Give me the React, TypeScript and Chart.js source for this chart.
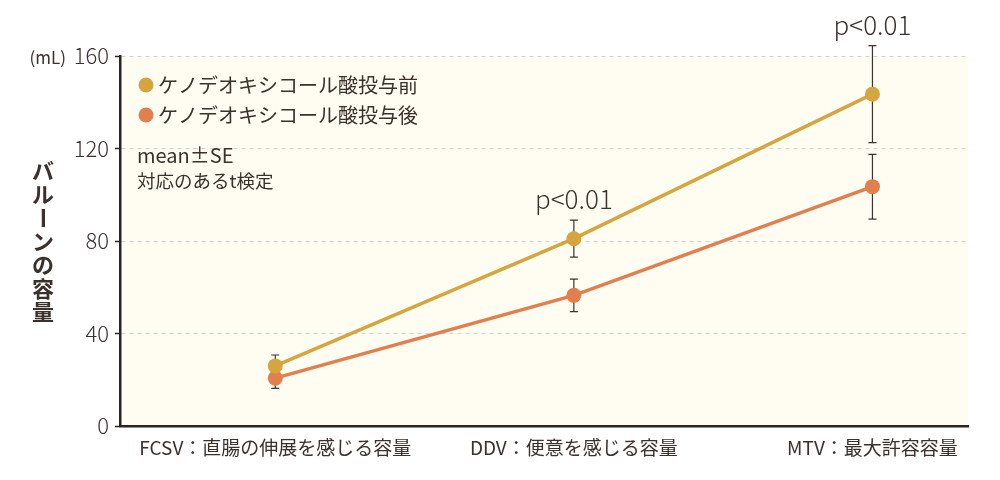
import { useEffect, useRef } from 'react'
import { Chart, registerables } from 'chart.js'

Chart.register(...registerables)

const categories = ['FCSV：直腸の伸展を感じる容量', 'DDV：便意を感じる容量', 'MTV：最大許容容量']
const seriesLabels = ['ケノデオキシコール酸投与前', 'ケノデオキシコール酸投与後']
const beforeMean = [26, 81, 143.5]
const beforeSE = [4.7, 8, 21]
const afterMean = [20.7, 56.5, 103.5]
const afterSE = [4.4, 7, 14]
const pLabels = ['', 'p<0.01', 'p<0.01']
const yTicks = [0, 40, 80, 120, 160]
const yTitle = 'バルーンの容量'
const unitLabel = '(mL)'
const noteLines = ['mean±SE', '対応のあるt検定']

const colors = ['#d5a53f', '#e17f4e']
const textColor = '#3a302c'
const font = '"Noto Sans CJK JP", "Noto Sans", sans-serif'

const decorPlugin = {
  id: 'decor',
  beforeDraw(chart: any) {
    const { ctx, chartArea } = chart
    ctx.save()
    ctx.fillStyle = '#fffdf1'
    ctx.fillRect(chartArea.left, chartArea.top, chartArea.right - chartArea.left, chartArea.bottom - chartArea.top)
    ctx.restore()
  },
  beforeDatasetsDraw(chart: any) {
    const { ctx } = chart
    const xs = chart.scales.x
    const ys = chart.scales.y
    const errs = [beforeSE, afterSE]
    const means = [beforeMean, afterMean]
    ctx.save()
    ctx.strokeStyle = '#3a3330'
    ctx.lineWidth = 1.2
    means.forEach((m, s) => {
      m.forEach((v, i) => {
        const x = xs.getPixelForValue(i)
        const top = ys.getPixelForValue(v + errs[s][i])
        const bot = ys.getPixelForValue(v - errs[s][i])
        ctx.beginPath()
        ctx.moveTo(x, top)
        ctx.lineTo(x, bot)
        ctx.moveTo(x - 4, top)
        ctx.lineTo(x + 4, top)
        ctx.moveTo(x - 4, bot)
        ctx.lineTo(x + 4, bot)
        ctx.stroke()
      })
    })
    ctx.restore()
  },
  afterDraw(chart: any) {
    const { ctx } = chart
    const xs = chart.scales.x
    const ys = chart.scales.y
    ctx.save()
    ctx.fillStyle = textColor

    // p-value labels
    ctx.font = `300 26px ${font}`
    ctx.textAlign = 'center'
    ctx.textBaseline = 'alphabetic'
    pLabels.forEach((p, i) => {
      if (!p) return
      const top = ys.getPixelForValue(beforeMean[i] + beforeSE[i])
      ctx.fillText(p, xs.getPixelForValue(i), top - 11)
    })

    // legend
    ctx.textAlign = 'left'
    ctx.textBaseline = 'middle'
    ctx.font = `20px ${font}`
    seriesLabels.forEach((label, s) => {
      const y = 85 + s * 30
      ctx.fillStyle = colors[s]
      ctx.beginPath()
      ctx.arc(146, y, 7.5, 0, Math.PI * 2)
      ctx.fill()
      ctx.fillStyle = textColor
      ctx.fillText(label, 158, y)
    })

    // notes
    ctx.font = `20px ${font}`
    ctx.fillText(noteLines[0], 137, 155)
    ctx.font = `18.5px ${font}`
    ctx.fillText(noteLines[1], 137, 181)

    // unit
    ctx.font = `17px ${font}`
    ctx.textAlign = 'right'
    ctx.fillText(unitLabel, 66, 58)

    // vertical y title
    ctx.font = `bold 22px ${font}`
    ctx.textAlign = 'center'
    Array.from(yTitle).forEach((ch, i) => {
      const cx = 43
      const cy = 171 + i * 23.5
      if (ch === 'ー') {
        ctx.save()
        ctx.translate(cx, cy)
        ctx.rotate(Math.PI / 2)
        ctx.fillText(ch, 0, 0)
        ctx.restore()
      } else {
        ctx.fillText(ch, cx, cy)
      }
    })
    ctx.restore()
  },
}

export default function App() {
  const canvasRef = useRef<HTMLCanvasElement | null>(null)

  useEffect(() => {
    if (!canvasRef.current) return
    const chart = new Chart(canvasRef.current, {
      type: 'line',
      data: {
        datasets: [beforeMean, afterMean].map((vals, s) => ({
          label: seriesLabels[s],
          data: vals.map((v, i) => ({ x: i, y: v })),
          borderColor: colors[s],
          backgroundColor: colors[s],
          pointBackgroundColor: colors[s],
          pointBorderWidth: 0,
          pointRadius: 7.5,
          borderWidth: 3.5,
          tension: 0,
        })),
      },
      options: {
        animation: false,
        responsive: true,
        maintainAspectRatio: false,
        layout: { padding: { top: 56, right: 32, left: 0, bottom: 0 } },
        plugins: {
          legend: { display: false },
          tooltip: { enabled: false },
        },
        scales: {
          x: {
            type: 'linear',
            min: -0.52,
            max: 2.32,
            afterBuildTicks: (scale: any) => {
              scale.ticks = categories.map((_, i) => ({ value: i }))
            },
            afterFit: (scale: any) => {
              scale.height = 54
            },
            grid: { display: false, drawTicks: false },
            border: { display: true, color: '#2b2522', width: 2.5 },
            ticks: {
              padding: 10,
              color: textColor,
              font: { family: font, size: 19 },
              maxRotation: 0,
              autoSkip: false,
              callback: (v: any) => categories[Math.round(Number(v))] ?? '',
            },
          },
          y: {
            min: 0,
            max: 160,
            afterBuildTicks: (scale: any) => {
              scale.ticks = yTicks.map((v) => ({ value: v }))
            },
            afterFit: (scale: any) => {
              scale.width = 120
            },
            grid: {
              color: '#c9d3dc',
              lineWidth: 1,
              tickColor: '#2b2522',
              tickLength: 5,
              tickWidth: 1.5,
              tickBorderDash: [],
            },
            border: { display: true, color: '#2b2522', width: 2.5, dash: [4, 4] },
            ticks: {
              padding: 6,
              color: textColor,
              font: { family: font, size: 22, weight: 300 },
            },
          },
        },
      },
      plugins: [decorPlugin],
    })
    return () => chart.destroy()
  }, [])

  return (
    <div style={{ position: 'fixed', left: 0, top: 0, width: 1000, height: 480, background: '#fff' }}>
      <canvas ref={canvasRef} />
    </div>
  )
}
